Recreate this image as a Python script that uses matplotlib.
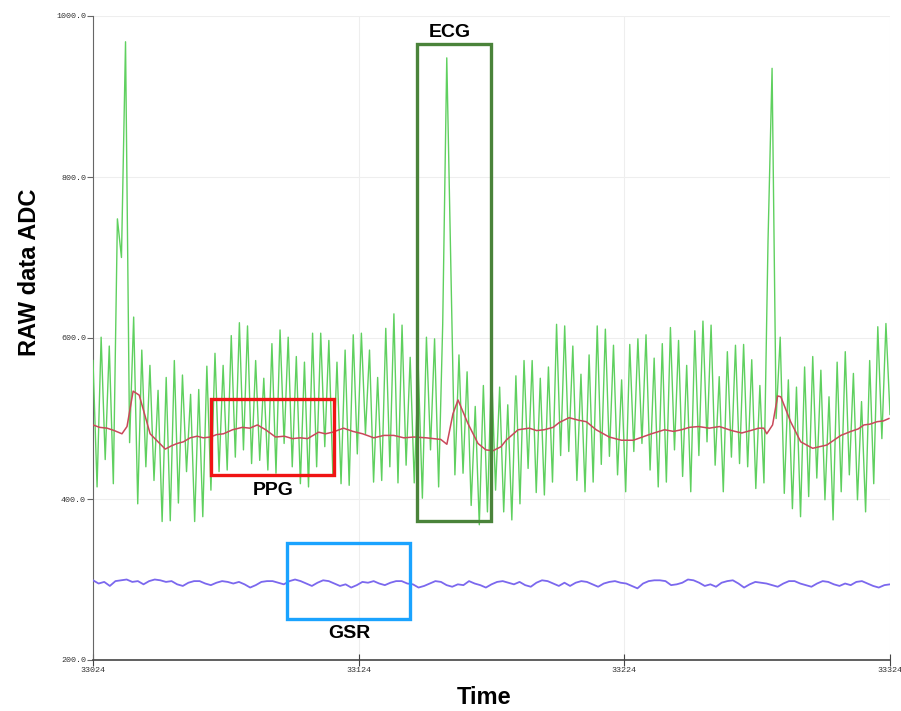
import numpy as np
import matplotlib
matplotlib.use("Agg")
import matplotlib.pyplot as plt
from matplotlib.patches import Rectangle
from matplotlib.ticker import FormatStrFormatter

# ---------------- data ----------------
t_start, t_end = 33024, 33324
x_ticks = [33024, 33124, 33224, 33324]
y_ticks = [200, 400, 600, 800, 1000]

# ECG + PPG raw (green), sampled uniformly over the window
ecg_seg1 = [572, 415, 601, 449, 590, 419, 748, 700, 968, 470, 626, 394, 585, 440, 566, 423,
            535, 372, 551, 373, 572, 395, 554, 434, 530, 372, 536, 378, 565, 411, 581, 434, 566]
ecg_seg2 = [436, 603, 452, 619, 461, 615, 444, 572, 448, 550, 436, 593, 432, 610, 469, 601, 440,
            577, 419, 570, 415, 606, 440, 606, 465, 597, 428, 570, 419, 585, 417, 604, 456, 606]
ecg_seg3 = [481, 585, 421, 551, 423, 612, 440, 630, 420, 616, 442, 576, 420, 562, 401, 601, 461,
            599, 415, 617, 948, 687, 430, 579, 432, 558, 392, 515, 368, 541, 384, 564]
ecg_seg4 = [411, 539, 384, 517, 374, 553, 394, 572, 438, 572, 408, 550, 405, 564, 421, 617, 454,
            615, 459, 590, 423, 555, 409, 579, 421, 615, 443, 611, 453, 591, 430, 548, 409, 592]
ecg_seg5 = [459, 599, 469, 604, 436, 575, 415, 593, 421, 613, 461, 597, 428, 566, 409, 609, 454,
            621, 471, 616, 442, 552, 409, 583, 452, 591, 444, 592, 440, 573, 413, 541, 420, 720, 935]
ecg_seg6 = [500, 601, 407, 548, 388, 539, 378, 564, 403, 577, 426, 560, 399, 527, 374, 570,
            409, 583, 430, 556, 399, 521, 384, 572, 419, 614, 475, 618, 505]
raw_values = ecg_seg1 + ecg_seg2 + ecg_seg3 + ecg_seg4 + ecg_seg5 + ecg_seg6

# PPG smoothed (red): time offsets from window start and values
ppg_t = [0, 2.5, 5.3, 8.0, 10.9, 12.8, 15.1, 17.4, 21.5, 27.2, 29.5, 31.7, 34.0, 36.6, 39.2,
         41.5, 44.2, 46.5, 49.1, 52.5, 56.2, 59.0, 61.9, 65.0, 68.7, 72.0, 75.1, 78.0, 80.8,
         84.9, 87.5, 90.2, 94.3, 97.8, 101.5, 105.7, 109.5, 113.2, 117.0, 120.8, 125.5, 130.9,
         133.2, 135.5, 137.4, 141.1, 144.9, 147.9, 150.6, 153.6, 155.5, 160, 164.2, 167.0,
         169.8, 173.2, 175.5, 179.2, 182.6, 185.7, 189.4, 194.3, 198.9, 203.4, 206.8, 210.2,
         215.1, 218.5, 221.5, 224.5, 227.9, 232.0, 235.8, 240.4, 244.2, 247.5, 250.6, 252.5,
         253.6, 255.8, 257.7, 258.9, 262.6, 266.4, 270.9, 273.5, 276.2, 281.5, 285.3, 288.0,
         290.2, 292.5, 295.1, 297.5, 299.6]
ppg_v = [492, 489, 488, 485, 481, 490, 534, 529, 481, 462, 466, 469, 471, 476, 478,
         476, 477, 480, 481, 486, 489, 488, 492, 486, 477, 478, 475, 476, 475,
         483, 481, 483, 488, 484, 481, 476, 479, 479, 476, 477, 476, 474,
         468, 506, 523, 494, 469, 461, 460, 465, 473, 486, 488, 485,
         486, 489, 495, 501, 498, 496, 486, 477, 473, 473, 477, 481,
         486, 484, 486, 489, 490, 488, 490, 485, 482, 485, 488, 488,
         481, 492, 528, 527, 496, 471, 463, 465, 467, 479, 484, 487,
         492, 493, 496, 497, 500]

# GSR (purple), sampled uniformly over the window
gsr_values = [299, 295, 297, 292, 298, 299, 300, 297, 298, 294, 298, 300, 299, 297, 298, 294,
              292, 296, 298, 298, 295, 293, 296, 298, 297, 295, 297, 294, 290, 293, 297, 298,
              298, 296, 294, 298, 300, 298, 295, 292, 296, 299, 298, 295, 292, 294, 290, 293,
              297, 296, 298, 295, 293, 296, 298, 298, 295, 294, 290, 292, 295, 298, 297, 293,
              291, 294, 293, 298, 295,
              293, 290, 294, 297, 298, 296, 294, 297, 293, 291, 296, 299, 298, 295, 292, 296,
              292, 296, 298, 297, 294, 291, 295, 297, 298, 296, 295, 292, 289, 295, 298, 299,
              299, 298, 293, 294, 296, 300, 299, 296, 292, 294, 291, 296, 298, 299, 295, 290,
              294, 297, 296, 295, 293, 291, 295, 298, 298, 295, 293, 291, 295, 298, 297, 294,
              292, 295, 293, 297, 298, 295, 292, 290, 293, 294]

# annotation boxes: (label, x0, x1, y0, y1)
box_labels = ["PPG", "ECG", "GSR"]
box_x0 = [33068.5, 33145.9, 33097.2]
box_x1 = [33114.6, 33173.8, 33143.2]
box_y0 = [430, 373, 251]
box_y1 = [524, 965, 345]
box_colors = ["#f01414", "#4a833a", "#1aa3ff"]
label_x = [33091.9, 33158.3, 33120.6]
label_y = [411, 979, 233]

# ---------------- plot ----------------
fig = plt.figure(figsize=(9.01, 7.11), dpi=100)
ax = fig.add_axes([93 / 901, 1 - 660 / 711, (890 - 93) / 901, (660 - 16) / 711])

raw_t = np.linspace(t_start, t_end, len(raw_values))
gsr_t = np.linspace(t_start, t_end, len(gsr_values))
ppg_time = t_start + np.array(ppg_t)

ax.plot(raw_t, raw_values, color="#5fd05f", lw=1.0, zorder=3)
ax.plot(ppg_time, ppg_v, color="#c9485a", lw=1.1, zorder=4)
ax.plot(gsr_t, gsr_values, color="#7b68ee", lw=1.3, zorder=4)

for lab, x0, x1, y0, y1, c, lx, ly in zip(box_labels, box_x0, box_x1, box_y0, box_y1,
                                          box_colors, label_x, label_y):
    ax.add_patch(Rectangle((x0, y0), x1 - x0, y1 - y0, fill=False, edgecolor=c,
                           lw=2.4, zorder=5))
    ax.text(lx, ly, lab, ha="center", va="center", fontsize=14, fontweight="bold",
            family="Liberation Sans", color="black", zorder=6)

ax.set_xlim(t_start, t_end)
ax.set_ylim(200, 1000)
ax.set_xticks(x_ticks)
ax.set_yticks(y_ticks)
ax.yaxis.set_major_formatter(FormatStrFormatter("%.1f"))
ax.xaxis.set_major_formatter(FormatStrFormatter("%d"))
ax.grid(True, color="#eeeeee", lw=0.8, zorder=0)
for s in ["top", "right"]:
    ax.spines[s].set_visible(False)
ax.spines["left"].set_color("#666666")
ax.spines["bottom"].set_color("#444444")
ax.spines["bottom"].set_linewidth(1.2)
ax.tick_params(axis="y", direction="out", length=4, color="#666666", labelsize=6,
               labelcolor="#333333", pad=1)
ax.tick_params(axis="x", direction="inout", length=8, color="#444444", labelsize=6,
               labelcolor="#333333", pad=1)
for lbl in ax.get_xticklabels() + ax.get_yticklabels():
    lbl.set_family("Liberation Mono")

fig.text(30 / 901, 1 - 272 / 711, "RAW data ADC", rotation=90, ha="center", va="center",
         fontsize=17, fontweight="bold", family="Liberation Sans")
fig.text(484 / 901, 1 - 698 / 711, "Time", ha="center", va="center",
         fontsize=17, fontweight="bold", family="Liberation Sans")

fig.savefig("out.png", dpi=100)
